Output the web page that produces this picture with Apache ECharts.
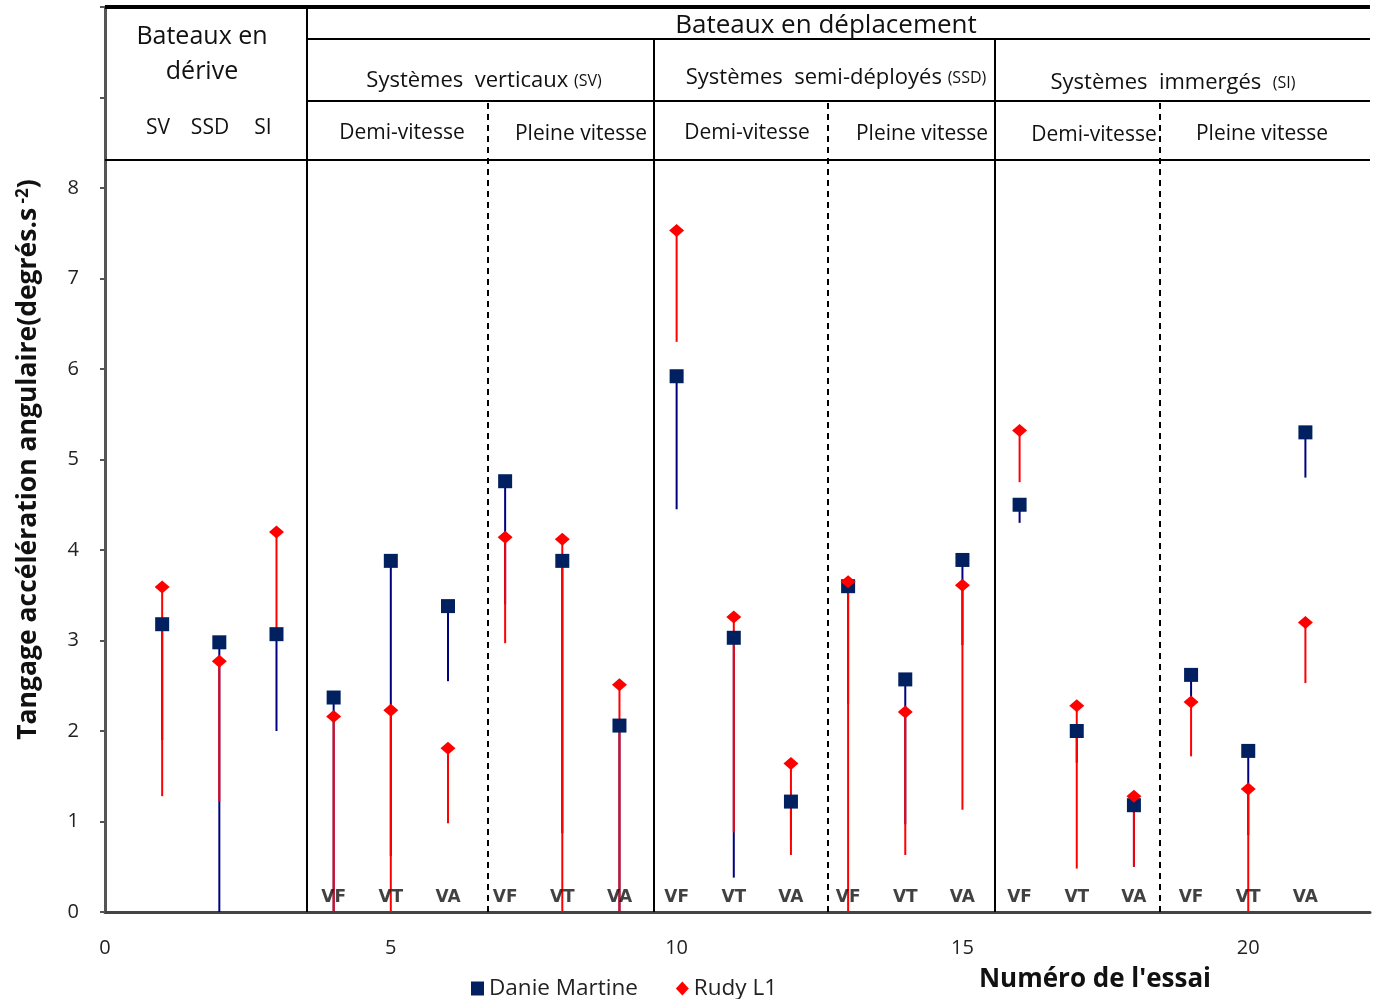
<!DOCTYPE html>
<html>
<head>
<meta charset="utf-8">
<script src="https://cdn.jsdelivr.net/npm/echarts@6/dist/echarts.min.js"></script>
<style>html,body{margin:0;padding:0;background:#fff}#c{width:1373px;height:999px}</style>
</head>
<body>
<div id="c"></div>
<script>
// ---------- DATA ----------
const trials = [1,2,3,4,5,6,7,8,9,10,11,12,13,14,15,16,17,18,19,20,21];
const danieMean = [3.18,2.98,3.07,2.37,3.88,3.38,4.76,3.88,2.06,5.92,3.03,1.22,3.60,2.57,3.89,4.50,2.00,1.18,2.62,1.78,5.30];
const danieLow  = [1.90,0.00,2.00,0.00,0.62,2.55,3.40,0.87,0.00,4.45,0.38,0.80,2.30,0.97,2.95,4.30,1.65,0.50,2.30,0.85,4.80];
const rudyMean  = [3.59,2.77,4.20,2.16,2.23,1.81,4.14,4.12,2.51,7.53,3.26,1.64,3.65,2.21,3.61,5.32,2.28,1.28,2.32,1.36,3.20];
const rudyLow   = [1.28,1.22,3.07,0.00,0.00,0.98,2.97,0.00,0.00,6.30,0.88,0.63,0.00,0.63,1.13,4.75,0.48,0.50,1.72,0.00,2.53];
const speedTrials = [4,5,6,7,8,9,10,11,12,13,14,15,16,17,18,19,20,21];
const speedLabels = ['VF','VT','VA','VF','VT','VA','VF','VT','VA','VF','VT','VA','VF','VT','VA','VF','VT','VA'];
const seriesNames = ['Danie Martine','Rudy L1'];
const xTicks = [0,5,10,15,20];
const yTickLabels = [0,1,2,3,4,5,6,7,8];

// ---------- LAYOUT ----------
const X_MAX = 22.13, Y_MAX = 10;
const speedLabelY = 0.16;
const sepSolid  = [[3.53,0,10],[9.6,0,9.65],[15.57,0,9.65]];
const sepDashed = [[6.7,0,8.96],[12.65,0,8.96],[18.46,0,8.96]];
const hRules = [[0,X_MAX,8.31,2],[3.53,X_MAX,8.96,2],[3.53,X_MAX,9.65,2],[0,X_MAX,10,4]];
const FONT = 'Open Sans';
const BLUE = '#002060', BLUE_LINE = '#000080', RED = '#FF0000';

const markData = [];
sepSolid.forEach(s => markData.push([{coord:[s[0],s[1]],lineStyle:{type:'solid',width:2,color:'#000'}},{coord:[s[0],s[2]]}]));
sepDashed.forEach(s => markData.push([{coord:[s[0],s[1]],lineStyle:{type:[6,5],width:2,color:'#000'}},{coord:[s[0],s[2]]}]));
hRules.forEach(h => markData.push([{coord:[h[0],h[2]],lineStyle:{type:'solid',width:h[3],color:'#000'}},{coord:[h[1],h[2]]}]));

function errBar(color){
  return function(params, api){
    const x = api.value(0), hi = api.value(1), lo = api.value(2);
    const p1 = api.coord([x,hi]), p2 = api.coord([x,lo]);
    return {type:'line', shape:{x1:p1[0],y1:p1[1],x2:p2[0],y2:p2[1]}, style:{stroke:color,lineWidth:2}};
  };
}

const txt = (t,x,y,size,extra) => ({type:'text', x:x, y:y, z:50, style:Object.assign({text:t, fontSize:size, fontFamily:FONT, fill:'#111', align:'center', verticalAlign:'middle'}, extra||{})});
const richTxt = (a,b,x,y) => ({type:'text', x:x, y:y, z:50, style:{text:'{a|'+a+'}{b|'+b+'}', align:'center', verticalAlign:'middle',
  rich:{a:{fontSize:22,fontFamily:FONT,fill:'#111',color:'#111'}, b:{fontSize:16,fontFamily:FONT,fill:'#111',color:'#111'}}}});

const chart = echarts.init(document.getElementById('c'));
chart.setOption({
  animation:false,
  backgroundColor:'#fff',
  grid:{left:105, right:0, top:7, bottom:87},
  xAxis:{
    type:'value', min:0, max:X_MAX, interval:5,
    axisLine:{show:true, onZero:false, lineStyle:{color:'#444', width:3}},
    axisTick:{show:false}, splitLine:{show:false},
    axisLabel:{fontSize:20, fontFamily:FONT, color:'#222', margin:26,
      formatter: v => xTicks.indexOf(v) >= 0 ? String(v) : ''}
  },
  yAxis:{
    type:'value', min:0, max:Y_MAX, interval:1,
    axisLine:{show:true, lineStyle:{color:'#555', width:3}},
    axisTick:{show:true, length:5, lineStyle:{color:'#555', width:2}},
    splitLine:{show:false},
    axisLabel:{fontSize:20, fontFamily:FONT, color:'#222', margin:26,
      formatter: v => yTickLabels.indexOf(v) >= 0 ? String(v) : ''},
    name:'{m|Tangage accélération angulaire(degrés.s}{s| -2}{m|)}',
    nameLocation:'middle', nameRotate:90, nameGap:63,
    nameTextStyle:{rich:{
      m:{fontSize:26.5, fontWeight:'bold', fontFamily:FONT, color:'#111'},
      s:{fontSize:17, fontWeight:'bold', fontFamily:FONT, color:'#111', verticalAlign:'top'}
    }}
  },
  legend:{
    data:seriesNames, left:466, top:972, itemWidth:13, itemHeight:14, itemGap:38,
    textStyle:{fontSize:22.5, fontFamily:FONT, color:'#222'}
  },
  series:[
    {type:'custom', name:'errDanie', renderItem:errBar(BLUE_LINE), z:2,
     encode:{x:0,y:[1,2]}, data:trials.map((t,i)=>[t,danieMean[i],danieLow[i]])},
    {type:'custom', name:'errRudy', renderItem:errBar(RED), z:3,
     encode:{x:0,y:[1,2]}, data:trials.map((t,i)=>[t,rudyMean[i],rudyLow[i]])},
    {type:'scatter', name:seriesNames[0], symbol:'rect', symbolSize:[14,14], z:4,
     itemStyle:{color:BLUE, opacity:1}, data:trials.map((t,i)=>[t,danieMean[i]])},
    {type:'scatter', name:seriesNames[1], symbol:'diamond', symbolSize:[15,13], z:5,
     itemStyle:{color:RED, opacity:1}, data:trials.map((t,i)=>[t,rudyMean[i]])},
    {type:'scatter', name:'labels', symbolSize:0, z:6, silent:true,
     data:speedTrials.map((t,i)=>({value:[t,speedLabelY], label:{formatter:speedLabels[i]}})),
     label:{show:true, position:'inside', fontSize:17, fontWeight:'bold', fontFamily:'DejaVu Sans', color:'#111'},
     markLine:{silent:true, symbol:['none','none'], label:{show:false}, animation:false, data:markData}
    }
  ],
  graphic:[
    txt('Bateaux en',202,37,25),
    txt('dérive',202,72,25),
    txt('SV',158,128,21),
    txt('SSD',210,128,21),
    txt('SI',263,128,21),
    txt('Bateaux en déplacement',826,26,26),
    richTxt('Systèmes  verticaux ','(SV)',484,81),
    richTxt('Systèmes  semi-déployés ','(SSD)',836,78),
    richTxt('Systèmes  immergés  ','(SI)',1173,83),
    txt('Demi-vitesse',402,133,21),
    txt('Pleine vitesse',581,134,21),
    txt('Demi-vitesse',747,133,21),
    txt('Pleine vitesse',922,134,21),
    txt('Demi-vitesse',1094,135,21),
    txt('Pleine vitesse',1262,134,21),
    txt("Numéro de l'essai",1095,980,26,{fontWeight:'bold'})
  ]
});
</script>
</body>
</html>
